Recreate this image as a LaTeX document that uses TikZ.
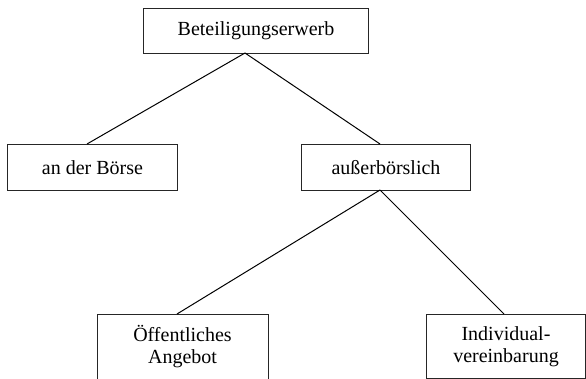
\documentclass[tikz,border=0pt]{standalone}
\usepackage{fontspec}
\setmainfont{Liberation Serif}
\begin{document}
\begin{tikzpicture}[x=1pt,y=-1pt,
  box/.style={draw=black!85, line width=1pt, inner sep=0pt, align=center, anchor=north west,
    font=\fontsize{20}{22.5}\selectfont},
  conn/.style={draw=black, line width=1pt}]
\useasboundingbox (0,0) rectangle (586,379);
\clip (0,0) rectangle (586,379);
\node[box, minimum width=225pt, minimum height=45pt] (top) at (143,8) {Beteiligungserwerb};
\node[box, minimum width=170pt, minimum height=46pt] (boerse) at (7,144) {an der Börse};
\node[box, minimum width=169pt, minimum height=46pt] (ausser) at (301,144) {außerbörslich};
\node[box, draw=none, minimum width=170pt, minimum height=64pt] (oeff) at (97,314) {Öffentliches\\Angebot};
\draw[black!85, line width=1pt] ([yshift=-12pt]oeff.south west) -- (oeff.north west) -- (oeff.north east) -- ([yshift=-12pt]oeff.south east);
\node[box, minimum width=159pt, minimum height=64pt] (indiv) at (426,314) {Individual-\\vereinbarung};
\coordinate (tA) at (245,53);
\coordinate (bA) at (87,144);
\coordinate (aT) at (380,144);
\coordinate (aB) at (380,190);
\coordinate (oT) at (177,314);
\coordinate (iT) at (504,314);
\draw[conn] (tA) -- (bA);
\draw[conn] (tA) -- (aT);
\draw[conn] (aB) -- (oT);
\draw[conn] (aB) -- (iT);
\end{tikzpicture}
\end{document}
